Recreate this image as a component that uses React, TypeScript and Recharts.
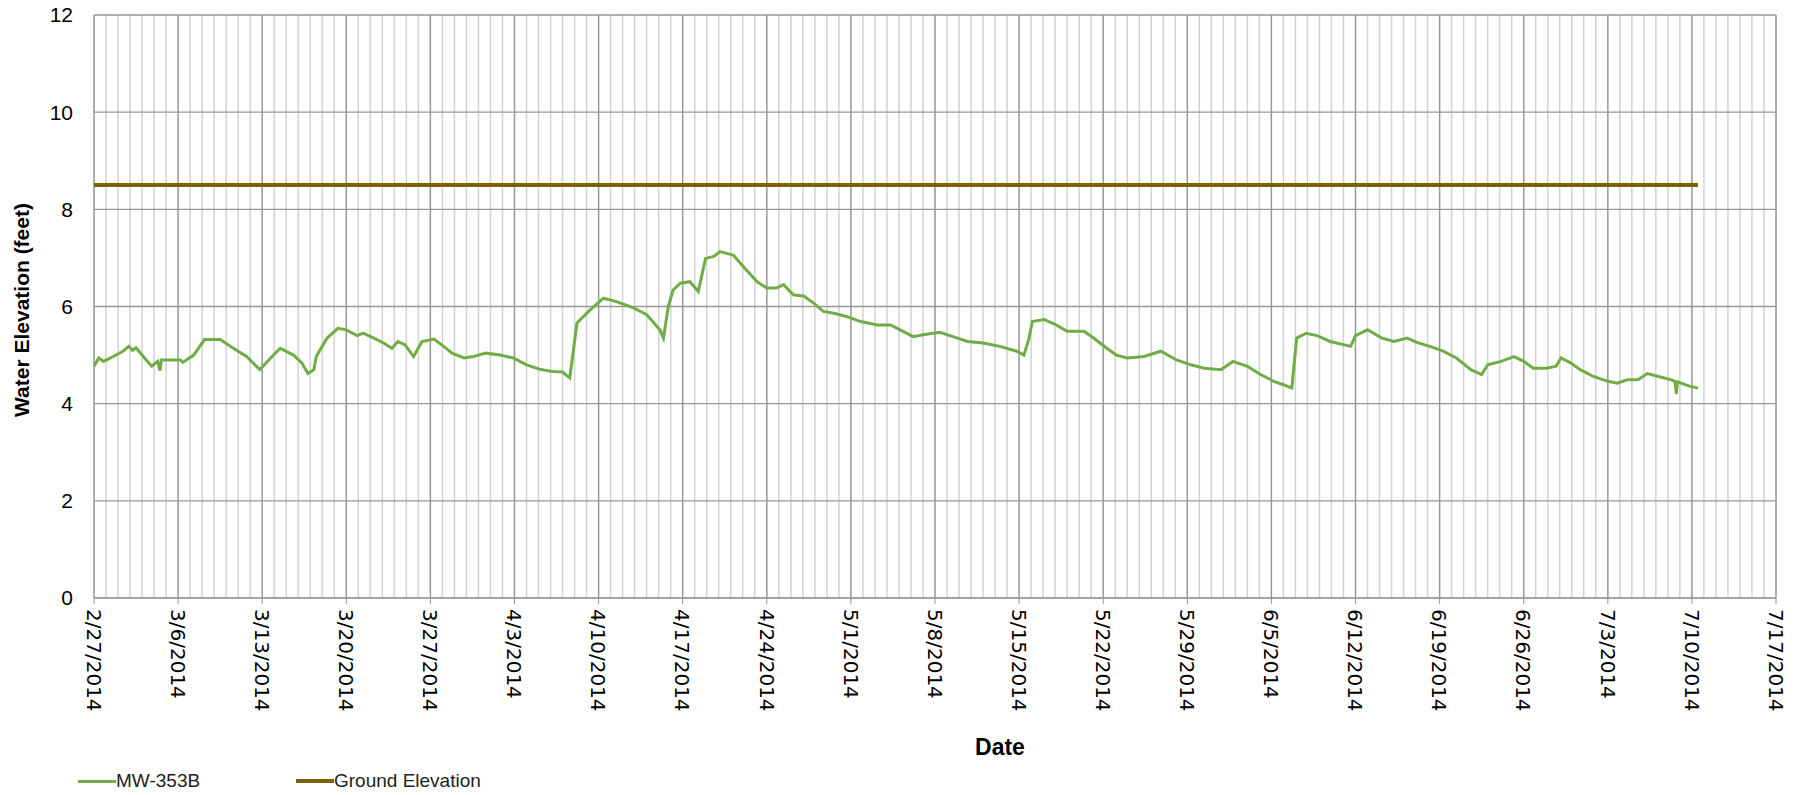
import React from "react";
import { CartesianGrid, Line, LineChart, XAxis, YAxis } from "recharts";

// days since 2/27/2014
const mwDays = [
  0, 0.4, 0.8, 1.6, 2.4, 2.9, 3.2, 3.5, 4.1, 4.8, 5.3, 5.5, 5.6, 6.3, 7.2, 7.4, 8.3, 9.2, 10.5, 11.6,
  12.7, 13.8, 14.7, 15.5, 16.6, 17.3, 17.8, 18.3, 18.5, 19.4, 20.3, 21.0, 21.9, 22.4, 23.3, 24.1, 24.8, 25.3, 25.9, 26.6,
  27.3, 28.3, 29.1, 29.8, 30.8, 31.6, 32.6, 33.8, 34.9, 36.0, 37.1, 38.2, 39.0, 39.6, 40.2, 40.6, 41.3, 42.4, 43.5, 44.9,
  46.0, 47.1, 47.4, 47.8, 48.2, 48.8, 49.6, 50.3, 50.9, 51.6, 52.1, 53.2, 54.3, 55.2, 56.0, 56.8, 57.4, 58.2, 59.1, 59.9,
  60.7, 61.6, 62.7, 63.8, 65.2, 66.3, 67.1, 68.2, 69.0, 70.4, 71.5, 72.7, 74.0, 75.4, 76.8, 77.4, 77.8, 78.1, 79.1, 80.1,
  81.0, 82.4, 83.2, 84.3, 85.1, 86.0, 87.4, 88.8, 90.1, 91.3, 92.4, 93.8, 94.8, 96.0, 97.1, 98.2, 99.0, 99.7, 100.1, 100.9,
  101.8, 102.9, 104.6, 105.0, 106.0, 107.2, 108.2, 109.3, 110.1, 111.2, 112.3, 113.4, 114.6, 115.5, 116.0, 117.1, 118.2, 119.0, 119.8, 120.9,
  121.7, 122.1, 122.9, 123.7, 124.8, 126.0, 126.8, 127.6, 128.5, 129.3, 130.2, 131.3, 131.6, 131.7, 131.8, 132.8, 133.5,
];

const mwLevels = [
  4.77, 4.94, 4.87, 4.97, 5.08, 5.18, 5.1, 5.15, 4.97, 4.77, 4.87, 4.68, 4.9, 4.9, 4.9, 4.85, 5.0, 5.32, 5.32, 5.14,
  4.97, 4.7, 4.94, 5.14, 5.0, 4.84, 4.62, 4.7, 4.97, 5.35, 5.55, 5.52, 5.4, 5.45, 5.35, 5.25, 5.14, 5.28, 5.21, 4.97,
  5.28, 5.33, 5.18, 5.04, 4.94, 4.97, 5.04, 5.0, 4.94, 4.8, 4.71, 4.66, 4.65, 4.53, 5.66, 5.76, 5.93, 6.17, 6.1, 5.97,
  5.83, 5.52, 5.35, 6.0, 6.34, 6.48, 6.51, 6.31, 6.99, 7.03, 7.13, 7.06, 6.75, 6.51, 6.38, 6.38, 6.45, 6.24, 6.21, 6.07,
  5.9, 5.86, 5.79, 5.69, 5.62, 5.62, 5.52, 5.38, 5.42, 5.47, 5.38, 5.28, 5.25, 5.18, 5.08, 5.0, 5.32, 5.69, 5.73, 5.62,
  5.49, 5.49, 5.35, 5.14, 5.0, 4.94, 4.97, 5.08, 4.9, 4.8, 4.73, 4.7, 4.87, 4.77, 4.6, 4.46, 4.39, 4.32, 5.35, 5.45,
  5.4, 5.28, 5.18, 5.4, 5.52, 5.35, 5.28, 5.35, 5.26, 5.18, 5.08, 4.94, 4.7, 4.6, 4.8, 4.87, 4.97, 4.87, 4.73, 4.73,
  4.77, 4.94, 4.84, 4.7, 4.56, 4.46, 4.42, 4.49, 4.49, 4.62, 4.56, 4.49, 4.45, 4.2, 4.45, 4.36, 4.32,
];

const groundDays = [0, 133.5];
const groundLevels = [8.5, 8.5];

const dateLabels = [
  "2/27/2014", "3/6/2014", "3/13/2014", "3/20/2014", "3/27/2014", "4/3/2014", "4/10/2014",
  "4/17/2014", "4/24/2014", "5/1/2014", "5/8/2014", "5/15/2014", "5/22/2014", "5/29/2014",
  "6/5/2014", "6/12/2014", "6/19/2014", "6/26/2014", "7/3/2014", "7/10/2014", "7/17/2014",
];
const yTicks = [0, 2, 4, 6, 8, 10, 12];

const weekTicks = dateLabels.map((_, i) => i * 7);
const dayTicks = Array.from({ length: 141 }, (_, i) => i);

const mwData = mwDays.map((day, i) => ({ day, level: mwLevels[i] }));
const groundData = groundDays.map((day, i) => ({ day, level: groundLevels[i] }));

const FONT = "'Liberation Sans', Arial, sans-serif";

function DateTick(props: any) {
  const { x, y, payload } = props;
  const label = dateLabels[Math.round(payload.value / 7)];
  return (
    <g transform={`translate(${x},${y})`}>
      <text
        transform="rotate(90)"
        x={3}
        y={0}
        dy="0.36em"
        textAnchor="start"
        fill="#000"
        fontSize={20}
        fontFamily="'DejaVu Sans', Verdana, sans-serif"
      >
        {label}
      </text>
    </g>
  );
}

const legendItem: React.CSSProperties = {
  position: "absolute",
  top: 770,
  height: 22,
  display: "flex",
  alignItems: "center",
  fontFamily: FONT,
  fontSize: 19,
  lineHeight: "22px",
  color: "#222",
  whiteSpace: "nowrap",
};

export default function App() {
  return (
    <div
      style={{
        position: "relative",
        width: 1799,
        height: 795,
        margin: -8,
        overflow: "hidden",
        background: "#fff",
      }}
    >
      <LineChart
        width={1799}
        height={795}
        margin={{ top: 15, right: 23, bottom: 0, left: 0 }}
      >
        <CartesianGrid xAxisId="minor" horizontal={false} stroke="#d2d2d2" strokeWidth={1.5} />
        <CartesianGrid stroke="#979797" strokeWidth={1.3} />
        <XAxis
          xAxisId="minor"
          type="number"
          dataKey="day"
          domain={[0, 140]}
          ticks={dayTicks}
          interval={0}
          allowDataOverflow
          hide
        />
        <XAxis
          type="number"
          dataKey="day"
          domain={[0, 140]}
          ticks={weekTicks}
          allowDataOverflow
          interval={0}
          height={197}
          stroke="#979797"
          tickSize={6}
          tickMargin={2}
          tick={<DateTick />}
          label={{
            content: () => (
              <text
                x={1000}
                y={755}
                textAnchor="middle"
                fontSize={23}
                fontWeight="bold"
                fontFamily={FONT}
                fill="#000"
              >
                Date
              </text>
            ),
          }}
        />
        <YAxis
          type="number"
          domain={[0, 12]}
          ticks={yTicks}
          width={94}
          axisLine={false}
          tickLine={false}
          tickMargin={15}
          tick={{ fontSize: 21, fill: "#000", fontFamily: FONT }}
          label={{
            content: () => (
              <text
                transform="translate(29,310) rotate(-90)"
                textAnchor="middle"
                fontSize={21}
                fontWeight="bold"
                fontFamily={FONT}
                fill="#000"
              >
                Water Elevation (feet)
              </text>
            ),
          }}
        />
        <Line
          data={groundData}
          dataKey="level"
          type="linear"
          stroke="#7F6000"
          strokeWidth={4}
          dot={false}
          isAnimationActive={false}
        />
        <Line
          data={mwData}
          dataKey="level"
          type="linear"
          stroke="#70AD47"
          strokeWidth={3}
          dot={false}
          isAnimationActive={false}
        />
      </LineChart>

      <svg
        width={1799}
        height={20}
        style={{ position: "absolute", left: 0, top: 0 }}
      >
        <text
          x={972}
          y={2}
          textAnchor="middle"
          fontSize={28}
          fontWeight="bold"
          fontFamily={FONT}
          fill="#000"
        >
          MW-353B Hydrograph
        </text>
      </svg>

      <div style={{ ...legendItem, left: 78 }}>
        <span style={{ display: "inline-block", width: 38, height: 3, background: "#70AD47" }} />
        <span>MW-353B</span>
      </div>
      <div style={{ ...legendItem, left: 296 }}>
        <span style={{ display: "inline-block", width: 38, height: 4, background: "#7F6000" }} />
        <span>Ground Elevation</span>
      </div>
    </div>
  );
}
